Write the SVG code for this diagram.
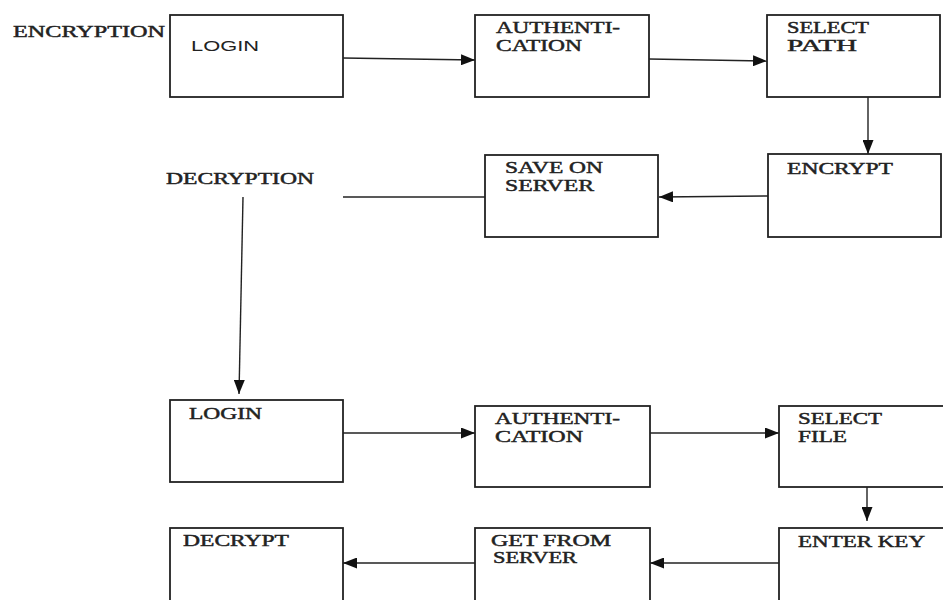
<svg xmlns="http://www.w3.org/2000/svg" width="943" height="600" viewBox="0 0 943 600">
<defs>
<style>
.box{fill:#fff;stroke:#222;stroke-width:1.8}
.ln{fill:none;stroke:#222;stroke-width:1.4}
.t{font-family:"Liberation Serif","Times New Roman",serif;font-size:16px;fill:#222;stroke:#222;stroke-width:0.45}
.s{font-family:"Liberation Sans",Arial,sans-serif;font-size:14.5px;fill:#222}
</style>
<marker id="ah" markerUnits="userSpaceOnUse" markerWidth="14" markerHeight="11" refX="14" refY="5.5" orient="auto">
<path d="M0,0 L14,5.5 L0,11 z" fill="#111"/>
</marker>
</defs>
<rect width="943" height="600" fill="#fff"/>
<g id="label-encryption"><text class="t" x="13" y="37" textLength="152" lengthAdjust="spacingAndGlyphs">ENCRYPTION</text></g>
<g id="label-decryption"><text class="t" x="166" y="184" textLength="148" lengthAdjust="spacingAndGlyphs">DECRYPTION</text></g>
<g id="connectors">
<line class="ln" x1="343" y1="58" x2="475" y2="60" marker-end="url(#ah)"/>
<line class="ln" x1="649" y1="59" x2="767" y2="61" marker-end="url(#ah)"/>
<line class="ln" x1="868" y1="97" x2="868" y2="154" marker-end="url(#ah)"/>
<line class="ln" x1="768" y1="196" x2="659" y2="197" marker-end="url(#ah)"/>
<line class="ln" x1="343" y1="197" x2="485" y2="197"/>
<line class="ln" x1="243" y1="197" x2="239" y2="394" marker-end="url(#ah)"/>
<line class="ln" x1="343" y1="433" x2="475" y2="433" marker-end="url(#ah)"/>
<line class="ln" x1="650" y1="433" x2="779" y2="433" marker-end="url(#ah)"/>
<line class="ln" x1="867" y1="482" x2="867" y2="521" marker-end="url(#ah)"/>
<line class="ln" x1="779" y1="563" x2="650" y2="563" marker-end="url(#ah)"/>
<line class="ln" x1="475" y1="563" x2="343" y2="563" marker-end="url(#ah)"/>
</g>
<g id="login1"><rect class="box" x="170" y="15" width="173" height="82"/><text class="s" x="191" y="51" textLength="68" lengthAdjust="spacingAndGlyphs">LOGIN</text></g>
<g id="auth1"><rect class="box" x="475" y="15" width="174" height="82"/><text class="t" x="496" y="33" textLength="124" lengthAdjust="spacingAndGlyphs">AUTHENTI-</text><text class="t" x="496" y="51" textLength="86" lengthAdjust="spacingAndGlyphs">CATION</text></g>
<g id="selectpath"><rect class="box" x="767" y="15" width="173" height="82"/><text class="t" x="787" y="33" textLength="82" lengthAdjust="spacingAndGlyphs">SELECT</text><text class="t" x="787" y="51" textLength="70" lengthAdjust="spacingAndGlyphs">PATH</text></g>
<g id="encrypt"><rect class="box" x="768" y="154" width="173" height="83"/><text class="t" x="787" y="174" textLength="106" lengthAdjust="spacingAndGlyphs">ENCRYPT</text></g>
<g id="save"><rect class="box" x="485" y="155" width="173" height="82"/><text class="t" x="505" y="173" textLength="98" lengthAdjust="spacingAndGlyphs">SAVE ON</text><text class="t" x="505" y="191" textLength="89" lengthAdjust="spacingAndGlyphs">SERVER</text></g>
<g id="login2"><rect class="box" x="170" y="400" width="173" height="82"/><text class="t" x="189" y="419" textLength="73" lengthAdjust="spacingAndGlyphs">LOGIN</text></g>
<g id="auth2"><rect class="box" x="475" y="406" width="175" height="81"/><text class="t" x="495" y="424" textLength="125" lengthAdjust="spacingAndGlyphs">AUTHENTI-</text><text class="t" x="495" y="442" textLength="88" lengthAdjust="spacingAndGlyphs">CATION</text></g>
<g id="selectfile"><rect class="box" x="779" y="406" width="180" height="81"/><text class="t" x="798" y="424" textLength="84" lengthAdjust="spacingAndGlyphs">SELECT</text><text class="t" x="798" y="442" textLength="49" lengthAdjust="spacingAndGlyphs">FILE</text></g>
<g id="enterkey"><rect class="box" x="779" y="528" width="180" height="90"/><text class="t" x="798" y="547" textLength="127" lengthAdjust="spacingAndGlyphs">ENTER KEY</text></g>
<g id="getfrom"><rect class="box" x="475" y="528" width="175" height="90"/><text class="t" x="491" y="546" textLength="120" lengthAdjust="spacingAndGlyphs">GET FROM</text><text class="t" x="493" y="563" textLength="84" lengthAdjust="spacingAndGlyphs">SERVER</text></g>
<g id="decrypt"><rect class="box" x="170" y="528" width="173" height="90"/><text class="t" x="183" y="546" textLength="106" lengthAdjust="spacingAndGlyphs">DECRYPT</text></g>
</svg>
